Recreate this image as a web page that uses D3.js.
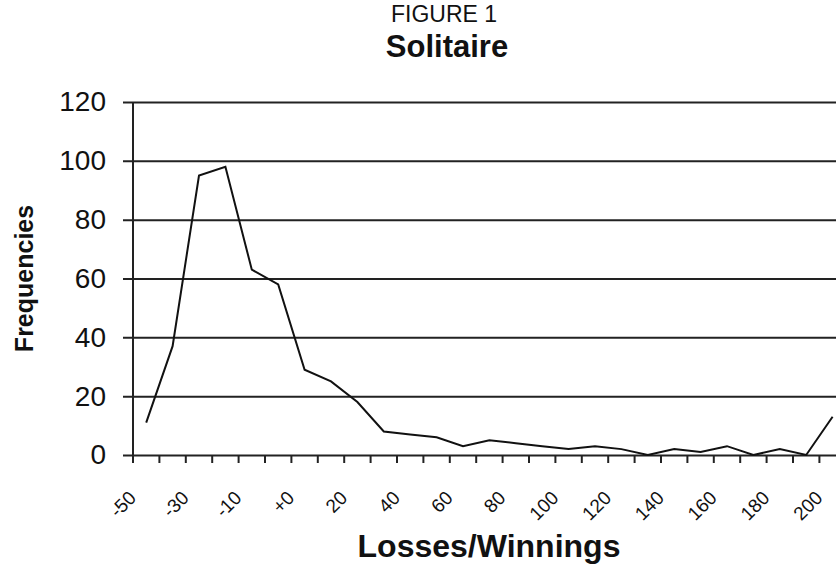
<!DOCTYPE html>
<html>
<head>
<meta charset="utf-8">
<script src="https://cdn.jsdelivr.net/npm/d3@7"></script>
<style>
  body { margin: 0; background: #fff; }
  svg { display: block; font-family: "Liberation Sans", Arial, sans-serif; }
</style>
</head>
<body>
<svg width="836" height="565"></svg>
<script>
const svg = d3.select("svg");
const width = +svg.attr("width");
const height = +svg.attr("height");

// bins of losses/winnings (every other one is labelled)
const categories = ["-50", "-40", "-30", "-20", "-10", "-0", "+0", "10", "20", "30", "40", "50", "60", "70",
  "80", "90", "100", "110", "120", "130", "140", "150", "160", "170", "180", "190", "200"];
const frequencies = [11, 37, 95, 98, 63, 58, 29, 25, 18, 8, 7, 6, 3, 5,
  4, 3, 2, 3, 2, 0, 2, 1, 3, 0, 2, 0, 13];
const yTicks = [0, 20, 40, 60, 80, 100, 120];
const labelled = categories.filter((d, i) => i % 2 === 0);

const margin = { top: 102, right: 0, bottom: 110, left: 133 };

const xScale = d3.scaleBand()
  .domain(categories)
  .range([margin.left, margin.left + 27 * 26.4])
  .padding(0);
const yScale = d3.scaleLinear()
  .domain([0, 120])
  .range([height - margin.bottom, margin.top]);

// titles
svg.append("text")
  .text("FIGURE 1")
  .attr("x", 444).attr("y", 22)
  .attr("text-anchor", "middle")
  .attr("font-size", 23)
  .attr("fill", "#111");
svg.append("text")
  .text("Solitaire")
  .attr("x", 447).attr("y", 57)
  .attr("text-anchor", "middle")
  .attr("font-size", 31)
  .attr("font-weight", "bold")
  .attr("fill", "#111");

// y axis with gridlines
const yAxis = d3.axisLeft(yScale).tickValues(yTicks).tickSize(0).tickPadding(27);
const yAxisG = svg.append("g")
  .attr("transform", `translate(${margin.left},0)`)
  .call(yAxis);
yAxisG.select(".domain").remove();
yAxisG.selectAll(".tick line")
  .attr("x1", -10)
  .attr("x2", width - margin.left)
  .attr("stroke", "#222")
  .attr("stroke-width", 2);
yAxisG.selectAll(".tick text")
  .attr("font-size", 28)
  .attr("font-family", "Liberation Sans, Arial, sans-serif")
  .attr("fill", "#111");

// vertical axis line
svg.append("line")
  .attr("x1", margin.left).attr("x2", margin.left)
  .attr("y1", yScale(120)).attr("y2", yScale(0) + 8)
  .attr("stroke", "#222")
  .attr("stroke-width", 2);

// x ticks at bin boundaries
const bounds = categories.map((c) => xScale(c)).concat([xScale.range()[1]]);
svg.append("g").selectAll("line")
  .data(bounds)
  .enter()
  .append("line")
  .attr("x1", (d) => d).attr("x2", (d) => d)
  .attr("y1", yScale(0)).attr("y2", yScale(0) + 8)
  .attr("stroke", "#222")
  .attr("stroke-width", 2);

// x labels, rotated
svg.append("g").selectAll("text")
  .data(labelled)
  .enter()
  .append("text")
  .text((d) => d)
  .attr("transform", (d) => `translate(${xScale(d) + xScale.bandwidth() / 2 - 9},499) rotate(-45)`)
  .attr("text-anchor", "end")
  .attr("font-size", 19)
  .attr("fill", "#111");

// line
const line = d3.line()
  .x((d, i) => xScale(categories[i]) + xScale.bandwidth() / 2)
  .y((d) => yScale(d));
svg.append("path")
  .datum(frequencies)
  .attr("d", line)
  .attr("fill", "none")
  .attr("stroke", "#111")
  .attr("stroke-width", 2)
  .attr("stroke-linejoin", "miter");

// axis titles
svg.append("text")
  .text("Frequencies")
  .attr("transform", `translate(33,${(yScale(0) + yScale(120)) / 2}) rotate(-90)`)
  .attr("text-anchor", "middle")
  .attr("font-size", 25)
  .attr("font-weight", "bold")
  .attr("fill", "#111");
svg.append("text")
  .text("Losses/Winnings")
  .attr("x", 489).attr("y", 557)
  .attr("text-anchor", "middle")
  .attr("font-size", 32)
  .attr("font-weight", "bold")
  .attr("fill", "#111");
</script>
</body>
</html>
